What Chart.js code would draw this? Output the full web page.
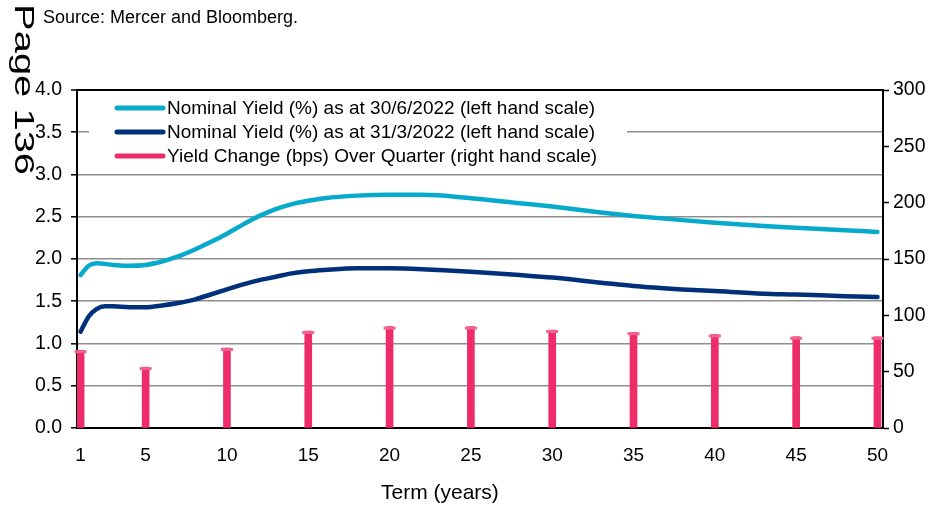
<!DOCTYPE html>
<html>
<head>
<meta charset="utf-8">
<script src="https://cdn.jsdelivr.net/npm/chart.js@4.4.0/dist/chart.umd.min.js"></script>
<style>
  html, body { margin: 0; padding: 0; background: #fff; overflow: hidden; }
  #wrap { position: relative; width: 938px; height: 505px; font-family: 'Liberation Sans', Arial, sans-serif; }
  #c { position: absolute; left: 0; top: 0; }
  .source { position: absolute; left: 43px; top: 7.5px; font-size: 18px; line-height: 1; color: #000; white-space: nowrap; }
  .page { position: absolute; left: 37px; top: 4px; font-size: 27px; line-height: 1; color: #000; white-space: nowrap;
          transform-origin: 0 0; transform: rotate(90deg) scaleX(1.48); }
  .xtitle { position: absolute; left: 381px; top: 481px; font-size: 21px; line-height: 1; color: #000; white-space: nowrap; }
</style>
</head>
<body>
<div id="wrap">
  <canvas id="c" width="938" height="505"></canvas>
  <div class="source">Source: Mercer and Bloomberg.</div>
  <div class="page">Page 136</div>
  <div class="xtitle">Term (years)</div>
</div>
<script>
// Nominal yield curve at 30/6/2022 (%), by term in years
const termsJun = [1, 1.5, 2, 3, 4, 5, 6, 7, 8, 9, 10, 11, 12, 13, 14, 15, 16, 18, 20, 22, 25, 28, 30, 33, 35, 38, 40, 43, 45, 48, 50];
const yieldJun = [1.81, 1.92, 1.95, 1.93, 1.92, 1.93, 1.97, 2.03, 2.11, 2.20, 2.30, 2.41, 2.51, 2.59, 2.65, 2.69, 2.72, 2.75, 2.76, 2.76, 2.72, 2.66, 2.62, 2.55, 2.51, 2.46, 2.43, 2.39, 2.37, 2.34, 2.32];

// Nominal yield curve at 31/3/2022 (%), by term in years
const termsMar = [1, 1.5, 2, 2.5, 3, 4, 5, 6, 7, 8, 9, 10, 11, 12, 13, 14, 15, 16, 18, 20, 22, 25, 28, 30, 33, 35, 38, 40, 43, 45, 48, 50];
const yieldMar = [1.14, 1.32, 1.41, 1.44, 1.44, 1.43, 1.43, 1.45, 1.48, 1.52, 1.58, 1.64, 1.70, 1.75, 1.79, 1.83, 1.855, 1.87, 1.89, 1.89, 1.88, 1.85, 1.81, 1.78, 1.72, 1.68, 1.64, 1.62, 1.59, 1.58, 1.56, 1.55];

// Yield change over the quarter (bps) at selected terms
const changeTerms = [1, 5, 10, 15, 20, 25, 30, 35, 40, 45, 50];
const changeBps = [69, 54, 71, 86, 90, 90, 87, 85, 83, 81, 81];

// Term axis labels
const termTicks = [1, 5, 10, 15, 20, 25, 30, 35, 40, 45, 50];

const seriesLabels = [
  'Nominal Yield (%) as at 30/6/2022 (left hand scale)',
  'Nominal Yield (%) as at 31/3/2022 (left hand scale)',
  'Yield Change (bps) Over Quarter (right hand scale)'
];

const LIGHT = '#07aacb';
const NAVY = '#00307a';
const PINK = '#ee2c69';
const PINK_CAP = '#f2628f';
const GRID = '#8e8e8e';
const FONT = "'Liberation Sans', Arial, sans-serif";

Chart.defaults.font.family = FONT;
Chart.defaults.color = '#000';

const toPoints = (xs, ys) => xs.map((x, i) => ({ x: x, y: ys[i] }));

// light caps on top of each bar
const barCaps = {
  id: 'barCaps',
  afterDatasetDraw(chart, args) {
    const ds = chart.data.datasets[args.index];
    if (ds.type !== 'bar') return;
    const ctx = chart.ctx;
    ctx.save();
    ctx.fillStyle = PINK_CAP;
    args.meta.data.forEach(bar => {
      ctx.fillRect(bar.x - 6, bar.y, 12, 3);
    });
    ctx.restore();
  }
};

// legend drawn inside the plot, on a white panel
const insetLegend = {
  id: 'insetLegend',
  afterDraw(chart) {
    const ctx = chart.ctx;
    const a = chart.chartArea;
    ctx.save();
    ctx.fillStyle = '#fff';
    ctx.fillRect(a.left + 12, a.top + 4, 538, 74);
    ctx.font = '19px ' + FONT;
    ctx.textBaseline = 'middle';
    ctx.textAlign = 'left';
    chart.data.datasets.forEach((ds, i) => {
      const y = a.top + 18 + i * 24;
      ctx.strokeStyle = ds.legendColor;
      ctx.lineWidth = 5;
      ctx.lineCap = 'round';
      ctx.beginPath();
      ctx.moveTo(a.left + 40, y);
      ctx.lineTo(a.left + 86, y);
      ctx.stroke();
      ctx.fillStyle = '#000';
      ctx.fillText(ds.label, a.left + 90, y + 1);
    });
    ctx.restore();
  }
};

new Chart(document.getElementById('c'), {
  type: 'bar',
  data: {
    datasets: [
      {
        type: 'line',
        label: seriesLabels[0],
        legendColor: LIGHT,
        data: toPoints(termsJun, yieldJun),
        borderColor: LIGHT,
        borderWidth: 4.5,
        pointRadius: 0,
        cubicInterpolationMode: 'monotone',
        borderCapStyle: 'round',
        yAxisID: 'y',
        order: 1
      },
      {
        type: 'line',
        label: seriesLabels[1],
        legendColor: NAVY,
        data: toPoints(termsMar, yieldMar),
        borderColor: NAVY,
        borderWidth: 4.5,
        pointRadius: 0,
        cubicInterpolationMode: 'monotone',
        borderCapStyle: 'round',
        yAxisID: 'y',
        order: 2
      },
      {
        type: 'bar',
        label: seriesLabels[2],
        legendColor: PINK,
        data: toPoints(changeTerms, changeBps),
        backgroundColor: PINK,
        borderWidth: 0,
        barThickness: 7,
        yAxisID: 'y1',
        order: 3
      }
    ]
  },
  options: {
    responsive: false,
    animation: false,
    devicePixelRatio: 1,
    layout: { padding: { top: 90, left: 0, right: 0, bottom: 0 } },
    plugins: {
      legend: { display: false },
      tooltip: { enabled: false }
    },
    scales: {
      x: {
        type: 'linear',
        offset: false,
        min: 0.78,
        max: 50.34,
        afterBuildTicks: s => { s.ticks = termTicks.map(v => ({ value: v })); },
        afterFit: s => { s.height = 77; },
        grid: { display: true, drawOnChartArea: false, drawTicks: false },
        border: { display: true, color: '#000', width: 2 },
        ticks: { font: { size: 19 }, color: '#000', padding: 16, maxRotation: 0, autoSkip: false },
        title: { display: false }
      },
      y: {
        position: 'left',
        min: 0,
        max: 4,
        afterFit: s => { s.width = 77; },
        ticks: { stepSize: 0.5, font: { size: 19.5 }, color: '#000', padding: 9, callback: v => v.toFixed(1) },
        grid: {
          color: c => (c.tick && (c.tick.value === 4 || c.tick.value === 0)) ? '#000' : GRID,
          lineWidth: c => (c.tick && c.tick.value === 4) ? 2 : 1.6,
          tickColor: '#000',
          tickLength: 6,
          tickWidth: 1.5
        },
        border: { display: true, color: '#000', width: 2 }
      },
      y1: {
        position: 'right',
        min: 0,
        max: 300,
        afterFit: s => { s.width = 55; },
        ticks: { stepSize: 50, font: { size: 19.5 }, color: '#000', padding: 4 },
        grid: { drawOnChartArea: false, tickColor: '#000', tickLength: 6, tickWidth: 1.5 },
        border: { display: true, color: '#000', width: 2 }
      }
    }
  },
  plugins: [barCaps, insetLegend]
});
</script>
</body>
</html>
